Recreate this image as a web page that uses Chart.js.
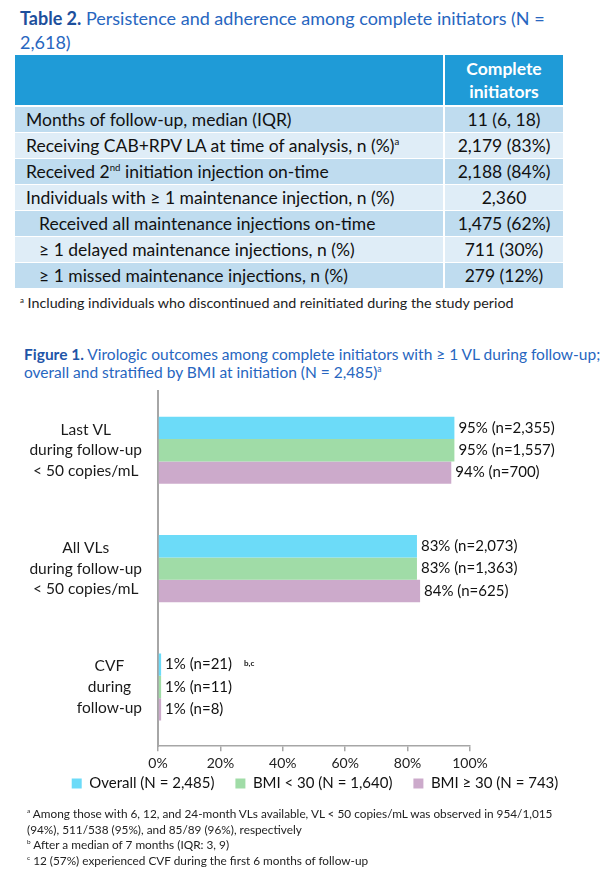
<!DOCTYPE html>
<html>
<head>
<meta charset="utf-8">
<script src="https://cdn.jsdelivr.net/npm/chart.js@4.4.1/dist/chart.umd.min.js"></script>
<style>
  body { margin: 0; background: #fff; font-family: Lato, "Open Sans", sans-serif; }
  #page { position: relative; width: 616px; height: 879px; overflow: hidden; }
  .title { position: absolute; left: 20px; top: 6px; width: 535px; font-size: 18px; line-height: 24px; color: #2766c0; }
  .title b { color: #1d4f9c; }
  .fig-title { position: absolute; left: 24px; top: 346px; width: 600px; font-size: 15.5px; line-height: 17.5px; color: #2766c0; white-space: nowrap; }
  .fig-title b { color: #1f55a8; }
  sup { font-size: 0.55em; vertical-align: 0.7em; line-height: 0; }
  table { position: absolute; left: 15px; top: 55px; width: 548px; border-collapse: collapse; font-size: 17.5px; color: #111; }
  th { background: #1f9bd7; color: #fff; height: 50px; padding: 0; line-height: 23px; font-weight: bold; border-bottom: 2px solid #fff; }
  td { height: 25px; padding: 0 0 0 11px; border-bottom: 1px solid #fff; white-space: nowrap; }
  td.v { text-align: center; padding: 0; width: 118px; border-left: 2px solid #fff; }
  th.v { width: 118px; border-left: 2px solid #fff; }
  td.ind { padding-left: 24px; }
  tr.d td { background: #bfdcef; }
  tr.l td { background: #dfedf7; }
  .tnote { position: absolute; left: 20px; top: 294px; font-size: 14.3px; color: #222; }
  .notes { position: absolute; left: 27px; top: 806px; font-size: 11.8px; line-height: 15.7px; color: #222; white-space: nowrap; }
  #chartBox { position: absolute; left: 0; top: 385px; width: 616px; height: 437px; }
</style>
</head>
<body>
<div id="page">
  <div class="title"><b>Table 2.</b> Persistence and adherence among complete initiators (N = 2,618)</div>
  <table>
    <tr><th></th><th class="v">Complete<br>initiators</th></tr>
    <tr class="d"><td>Months of follow-up, median (IQR)</td><td class="v">11 (6, 18)</td></tr>
    <tr class="l"><td>Receiving CAB+RPV LA at time of analysis, n (%)<sup>a</sup></td><td class="v">2,179 (83%)</td></tr>
    <tr class="d"><td>Received 2<sup>nd</sup> initiation injection on-time</td><td class="v">2,188 (84%)</td></tr>
    <tr class="l"><td>Individuals with ≥ 1 maintenance injection, n (%)</td><td class="v">2,360</td></tr>
    <tr class="d"><td class="ind">Received all maintenance injections on-time</td><td class="v">1,475 (62%)</td></tr>
    <tr class="l"><td class="ind">≥ 1 delayed maintenance injections, n (%)</td><td class="v">711 (30%)</td></tr>
    <tr class="d"><td class="ind">≥ 1 missed maintenance injections, n (%)</td><td class="v">279 (12%)</td></tr>
  </table>
  <div class="tnote"><sup>a</sup> Including individuals who discontinued and reinitiated during the study period</div>

  <div class="fig-title"><b>Figure 1.</b> Virologic outcomes among complete initiators with ≥ 1 VL during follow-up;<br>overall and stratified by BMI at initiation (N = 2,485)<sup>a</sup></div>
  <div id="chartBox"><canvas id="fig1"></canvas></div>

  <div class="notes">
    <div><sup>a</sup> Among those with 6, 12, and 24-month VLs available, VL &lt; 50 copies/mL was observed in 954/1,015<br>(94%), 511/538 (95%), and 85/89 (96%), respectively</div>
    <div><sup>b</sup> After a median of 7 months (IQR: 3, 9)</div>
    <div><sup>c</sup> 12 (57%) experienced CVF during the first 6 months of follow-up</div>
  </div>
</div>

<script>
// categories shown on the left, one array of lines each
const categories = [
  ['Last VL', 'during follow-up', '< 50 copies/mL'],
  ['All VLs', 'during follow-up', '< 50 copies/mL'],
  ['CVF', 'during', 'follow-up']
];
const seriesNames = ['Overall (N = 2,485)', 'BMI < 30 (N = 1,640)', 'BMI ≥ 30 (N = 743)'];

// percent values
const overallPct = [95, 83, 1];
const bmiUnderPct = [95, 83, 1];
const bmiOverPct = [94, 84, 1];

// text next to each bar
const overallText = ['95% (n=2,355)', '83% (n=2,073)', '1% (n=21)'];
const bmiUnderText = ['95% (n=1,557)', '83% (n=1,363)', '1% (n=11)'];
const bmiOverText = ['94% (n=700)', '84% (n=625)', '1% (n=8)'];

const xTicks = [0, 20, 40, 60, 80, 100];

const colors = ['#6cdbf8', '#a0dca7', '#ccaacb'];
const barText = [overallText, bmiUnderText, bmiOverText];

// draws the category labels: block right-aligned, each line centred in the block
const catLabels = {
  id: 'catLabels',
  afterDraw(chart) {
    const { ctx } = chart;
    const y = chart.scales.y;
    const right = 142;
    ctx.save();
    ctx.font = '15.5px Lato, sans-serif';
    ctx.fillStyle = '#1a1a1a';
    ctx.textAlign = 'center';
    ctx.textBaseline = 'middle';
    categories.forEach((lines, i) => {
      const cy = y.getPixelForValue(i);
      const w = Math.max(...lines.map(l => ctx.measureText(l).width));
      lines.forEach((l, j) => {
        ctx.fillText(l, right - w / 2, cy + (j - (lines.length - 1) / 2) * 20.7);
      });
    });
    ctx.restore();
  }
};

// value labels after each bar end
const barLabels = {
  id: 'barLabels',
  afterDatasetsDraw(chart) {
    const { ctx } = chart;
    ctx.save();
    ctx.font = '15px Lato, sans-serif';
    ctx.fillStyle = '#111';
    ctx.textBaseline = 'middle';
    chart.data.datasets.forEach((ds, di) => {
      chart.getDatasetMeta(di).data.forEach((bar, i) => {
        const txt = barText[di][i];
        ctx.fillText(txt, bar.x + 4, bar.y);
        // footnote marks on the CVF overall bar
        if (di === 0 && i === 2) {
          const w = ctx.measureText(txt).width;
          ctx.font = 'bold 8px Lato, sans-serif';
          ctx.fillText('b,c', bar.x + 4 + w + 12, bar.y - 1);
          ctx.font = '15px Lato, sans-serif';
        }
      });
    });
    ctx.restore();
  }
};

// pull the legend row closer to the axis labels, nudge it right a little
const legendUp = {
  id: 'legendUp',
  afterLayout(chart) {
    const lg = chart.legend;
    lg.top -= 21;
    lg.bottom -= 21;
    lg.left += 7;
    lg.right += 7;
  }
};

new Chart(document.getElementById('fig1'), {
  type: 'bar',
  data: {
    labels: categories.map(c => c.join(' ')),
    datasets: [
      { label: seriesNames[0], data: overallPct, backgroundColor: colors[0] },
      { label: seriesNames[1], data: bmiUnderPct, backgroundColor: colors[1] },
      { label: seriesNames[2], data: bmiOverPct, backgroundColor: colors[2] }
    ]
  },
  options: {
    indexAxis: 'y',
    responsive: true,
    maintainAspectRatio: false,
    animation: false,
    categoryPercentage: 0.567,
    barPercentage: 1.0,
    layout: { padding: { top: 6 } },
    scales: {
      x: {
        min: 0,
        max: 100,
        afterBuildTicks: axis => { axis.ticks = xTicks.map(v => ({ value: v })); },
        grid: { drawOnChartArea: false, drawTicks: true, tickLength: 5, color: '#a6a6a6', lineWidth: 1.5 },
        border: { display: true, color: '#a6a6a6', width: 1.5 },
        ticks: {
          padding: 4,
          color: '#222',
          font: { family: 'Lato', size: 14 },
          callback: v => v + '%'
        }
      },
      y: {
        afterFit: s => { s.width = 158; },
        grid: { display: false },
        border: { display: true, color: '#a6a6a6', width: 2 },
        ticks: { display: false }
      },
      yRight: {
        type: 'linear',
        position: 'right',
        afterFit: s => { s.width = 146; },
        grid: { display: false },
        border: { display: false },
        ticks: { display: false }
      }
    },
    plugins: {
      legend: {
        position: 'bottom',
        labels: {
          boxWidth: 10,
          boxHeight: 10,
          padding: 21,
          color: '#111',
          font: { family: 'Lato', size: 15 }
        }
      },
      tooltip: { enabled: false }
    }
  },
  plugins: [catLabels, barLabels, legendUp]
});
</script>
</body>
</html>
